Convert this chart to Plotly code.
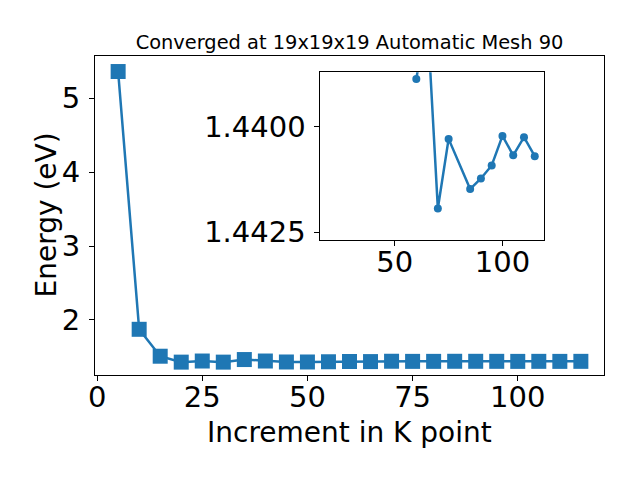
import plotly.graph_objects as go

# Main data
k_points = [5, 10, 15, 20, 25, 30, 35, 40, 45, 50, 55, 60, 65, 70, 75, 80, 85, 90, 95, 100, 105, 110, 115]
energy = [5.36, 1.874, 1.51, 1.43, 1.445, 1.43, 1.465, 1.445, 1.432, 1.432, 1.435, 1.43887, 1.4373,
          1.44194, 1.44029, 1.4405, 1.44148, 1.44123, 1.44092, 1.44022, 1.44068, 1.44025, 1.44070]

# Inset data
inset_k = [60, 65, 70, 75, 85, 90, 95, 100, 105, 110, 115]
inset_energy = [1.43887, 1.4373, 1.44194, 1.44029, 1.44148, 1.44123, 1.44092, 1.44022, 1.44068, 1.44025, 1.44070]

title_text = "Converged at 19x19x19 Automatic Mesh 90"
x_label = "Increment in K point"
y_label = "Energy (eV)"

blue = "#1f77b4"
font = "DejaVu Sans"

fig = go.Figure()
fig.add_trace(go.Scatter(x=k_points, y=energy, mode="lines+markers",
                         line=dict(color=blue, width=2.5),
                         marker=dict(symbol="square", size=15, color=blue),
                         xaxis="x", yaxis="y", showlegend=False))
fig.add_trace(go.Scatter(x=inset_k, y=inset_energy, mode="lines+markers",
                         line=dict(color=blue, width=2.5),
                         marker=dict(symbol="circle", size=8, color=blue),
                         xaxis="x2", yaxis="y2", showlegend=False))

axis_common = dict(showline=True, linecolor="black", linewidth=1.1, mirror=True,
                   ticks="outside", ticklen=5, tickwidth=1.1, tickcolor="black",
                   showgrid=False, zeroline=False, automargin=False,
                   tickfont=dict(family=font, size=29, color="black"))

fig.update_layout(
    width=640, height=480,
    margin=dict(l=87, r=44, t=48, b=113),
    paper_bgcolor="white", plot_bgcolor="white",
    font=dict(family=font, color="black"),
    title=dict(text=title_text, x=0.5336, xanchor="center", y=0.929, yanchor="middle",
               font=dict(family=font, size=19.4, color="black")),
    xaxis=dict(range=[-0.5, 120.5], tickvals=[0, 25, 50, 75, 100], ticklabelstandoff=-9,
               **axis_common),
    yaxis=dict(range=[1.256, 5.57], tickvals=[2, 3, 4, 5], ticklabelstandoff=3,
               **axis_common),
    xaxis2=dict(domain=[0.443, 0.883], anchor="y2", range=[15.5, 119.5], tickvals=[50, 100],
                ticklabelstandoff=-9, **axis_common),
    yaxis2=dict(domain=[0.423, 0.949], anchor="x2", range=[1.44269, 1.43871],
                tickvals=[1.44, 1.4425], tickformat=".4f", ticklabelstandoff=3, **axis_common),
    annotations=[
        dict(text=x_label, xref="paper", yref="paper", x=0.5, y=0, xanchor="center",
             yanchor="middle", yshift=-57, showarrow=False,
             font=dict(family=font, size=28, color="black")),
        dict(text=y_label, xref="paper", yref="paper", x=0, y=0.5, xanchor="center",
             yanchor="middle", xshift=-49, textangle=-90, showarrow=False,
             font=dict(family=font, size=28, color="black")),
    ],
)

fig.write_html("out.html")
